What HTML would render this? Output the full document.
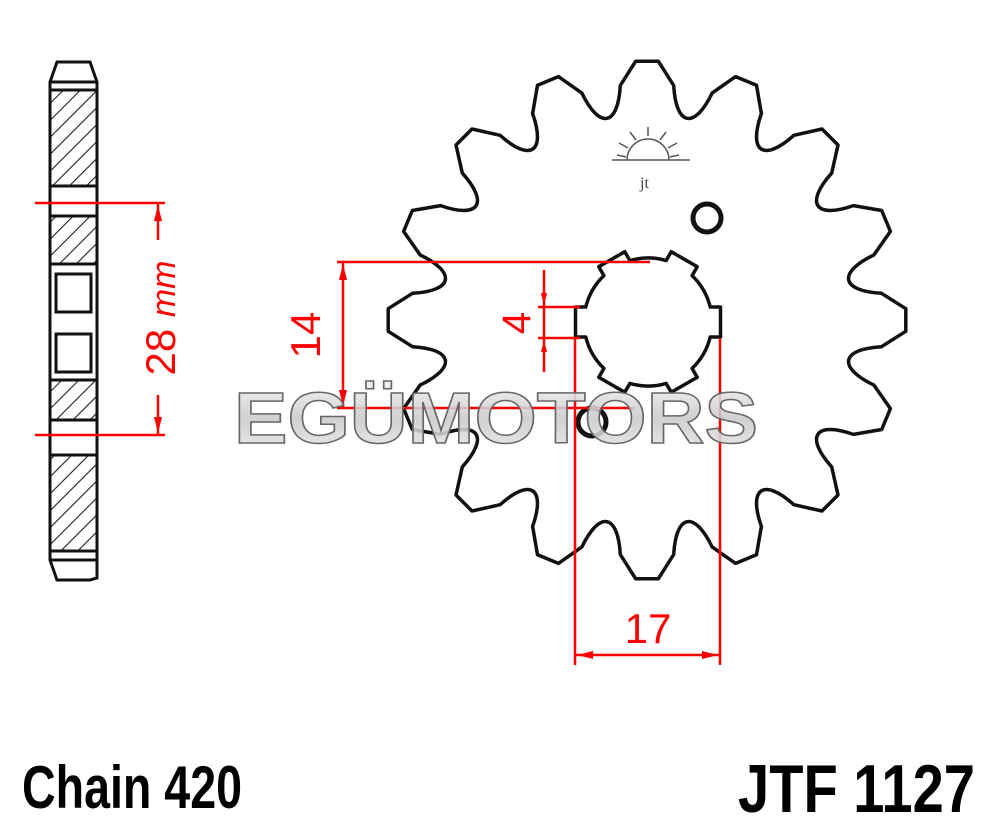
<!DOCTYPE html>
<html><head><meta charset="utf-8"><style>
html,body{margin:0;padding:0;background:#fff;width:1000px;height:832px;overflow:hidden}
svg{display:block}
</style></head><body>
<svg id="s" width="1000" height="832" viewBox="0 0 1000 832" xmlns="http://www.w3.org/2000/svg">
<defs>
<pattern id="h" width="12" height="12" patternUnits="userSpaceOnUse" patternTransform="rotate(45)">
<rect width="12" height="12" fill="#fff"/><line x1="0" y1="0" x2="0" y2="12" stroke="#222" stroke-width="2.2"/>
</pattern>
<linearGradient id="wg" x1="0" y1="0" x2="0" y2="1">
<stop offset="0" stop-color="#f4f4f4" stop-opacity="0.9"/><stop offset="0.5" stop-color="#c8c8c8" stop-opacity="0.85"/><stop offset="1" stop-color="#eeeeee" stop-opacity="0.9"/>
</linearGradient>
</defs>
<!-- side view -->
<g stroke="#111" stroke-width="3" fill="#fff">
<path d="M57 62 L90 62 L97 82 L97 578 L90 580 L57 580 L50 560 L50 82 Z"/>
<rect x="50" y="90" width="47" height="96" fill="url(#h)"/>
<rect x="50" y="216" width="47" height="48" fill="url(#h)"/>
<rect x="50" y="380" width="47" height="40" fill="url(#h)"/>
<rect x="50" y="455" width="47" height="96" fill="url(#h)"/>
<rect x="56" y="274" width="35" height="38" fill="#fff"/>
<rect x="56" y="334" width="35" height="38" fill="#fff"/>
<line x1="50" y1="82" x2="97" y2="82"/><line x1="50" y1="560" x2="97" y2="560"/>
</g>
<!-- sprocket -->
<path id="spr" fill="none" stroke="#111" stroke-width="3.5" stroke-linejoin="round"/>
<path id="hub" fill="none" stroke="#111" stroke-width="3.5" stroke-linejoin="round"/>
<circle cx="707" cy="218" r="14" fill="none" stroke="#111" stroke-width="5"/>
<circle cx="592" cy="422" r="14" fill="none" stroke="#111" stroke-width="5"/>
<!-- small logo -->
<g stroke="#555" stroke-width="1.5" fill="none">
<path d="M627 160 A21 21 0 0 1 669 160"/>
<line x1="612" y1="160" x2="690" y2="160"/>
<line x1="648" y1="136" x2="648" y2="127"/><line x1="636" y1="140" x2="630" y2="132"/><line x1="660" y1="140" x2="666" y2="132"/>
<line x1="628" y1="148" x2="619" y2="143"/><line x1="668" y1="148" x2="677" y2="143"/><line x1="626" y1="157" x2="617" y2="155"/><line x1="670" y1="157" x2="679" y2="155"/>
<text x="640" y="188" font-family="Liberation Serif,serif" font-size="16" fill="#444" stroke="none">jt</text>
</g>
<!-- red dims -->
<g stroke="#f00" stroke-width="2.5" fill="#f00">
<line x1="337" y1="262" x2="650" y2="262"/>
<line x1="337" y1="408" x2="635" y2="408"/>
<line x1="343" y1="262" x2="343" y2="408"/>
<path d="M343 264 l-4 16 h8 z M343 406 l-4 -16 h8 z" stroke="none"/>
<line x1="544" y1="270" x2="544" y2="372"/>
<line x1="538" y1="307" x2="580" y2="307"/>
<line x1="538" y1="338" x2="580" y2="338"/>
<path d="M544 305 l-3 -12 h6 z M544 340 l-3 12 h6 z" stroke="none"/>
<line x1="575" y1="338" x2="575" y2="665"/>
<line x1="720" y1="338" x2="720" y2="665"/>
<line x1="575" y1="655" x2="720" y2="655"/>
<path d="M577 655 l16 -4 v8 z M718 655 l-16 -4 v8 z" stroke="none"/>
<line x1="35" y1="203" x2="165" y2="203"/>
<line x1="35" y1="435" x2="165" y2="435"/>
<line x1="158" y1="203" x2="158" y2="240"/>
<line x1="158" y1="395" x2="158" y2="435"/>
<path d="M158 205 l-4 16 h8 z M158 433 l-4 -16 h8 z" stroke="none"/>
</g>
<g fill="#f00" font-family="Liberation Sans,sans-serif">
<text transform="translate(320 335) rotate(-90)" font-size="42" text-anchor="middle">14</text>
<text transform="translate(530 323) rotate(-90)" font-size="40" text-anchor="middle">4</text>
<text x="648" y="643" font-size="42" text-anchor="middle">17</text>
<text transform="translate(175 318) rotate(-90)" font-size="42" text-anchor="middle">28 <tspan font-style="italic" font-size="34">mm</tspan></text>
</g>
<!-- watermark -->
<text x="234" y="443" font-family="Liberation Sans,sans-serif" font-weight="bold" font-size="72" textLength="524" lengthAdjust="spacingAndGlyphs" fill="url(#wg)" stroke="#666" stroke-width="1.5">EGÜMOTORS</text>
<!-- bottom labels -->
<text x="22" y="808" font-family="Liberation Sans,sans-serif" font-weight="bold" font-size="60" textLength="220" lengthAdjust="spacingAndGlyphs" fill="#000">Chain 420</text>
<text x="738" y="812" font-family="Liberation Sans,sans-serif" font-weight="bold" font-size="68" textLength="237" lengthAdjust="spacingAndGlyphs" fill="#000">JTF 1127</text>
</svg>
<script>
(function(){
var cx=647,cy=320,R=259;
function p(a,r){var t=(a-90)*Math.PI/180;return (cx+r*Math.cos(t)).toFixed(1)+" "+(cy+r*Math.sin(t)).toFixed(1);}
var d="";
for(var i=0;i<16;i++){
 var a=i*22.5;
 d+=(i==0?"M":"L")+p(a-2.5,R)+" L"+p(a+2.5,R)+" L"+p(a+6.5,236)+" C"+p(a+8.5,196)+" "+p(a+14,196)+" "+p(a+16,236)+" ";
}
document.getElementById("spr").setAttribute("d",d+"Z");
var hx=648,hy=322,r0=64,r1=74,hd="";
function q(a,r){var t=(a-90)*Math.PI/180;return (hx+r*Math.cos(t)).toFixed(1)+" "+(hy+r*Math.sin(t)).toFixed(1);}
for(var j=0;j<6;j++){
 var b=j*60+30;
 var aw=Math.asin(15/r1)*180/Math.PI, aw0=Math.asin(15/r0)*180/Math.PI;
 hd+=(j==0?"M":"L")+q(b-aw0,r0)+" L"+q(b-aw,r1)+" L"+q(b+aw,r1)+" L"+q(b+aw0,r0)+" A"+r0+" "+r0+" 0 0 1 "+q(b+60-aw0,r0)+" ";
}
document.getElementById("hub").setAttribute("d",hd+"Z");
})();
</script>
</body></html>
